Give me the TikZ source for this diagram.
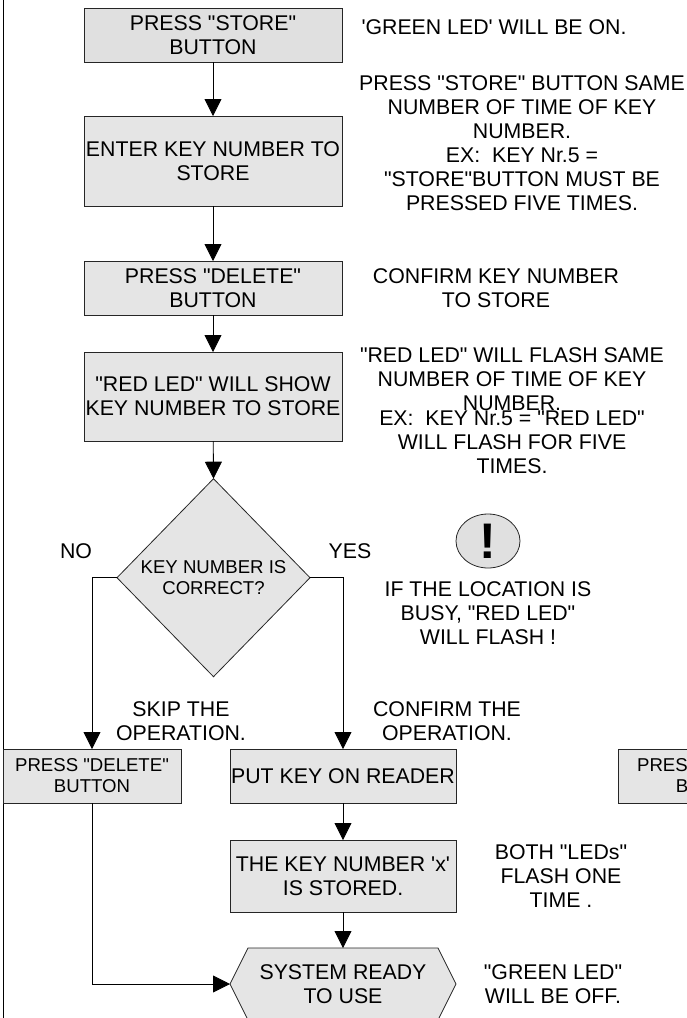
\documentclass[tikz,border=0pt]{standalone}
\usepackage{fontspec}
\usetikzlibrary{arrows.meta,backgrounds,shapes.geometric}
\font\liba="Liberation Sans" at 21.3pt
\font\libb="Liberation Sans" at 18.6pt
\font\libc="Liberation Sans/B" at 50pt
\newcommand{\fsA}{\liba\baselineskip=24pt\relax}
\newcommand{\fsB}{\libb\baselineskip=21pt\relax}
\tikzset{
  x=1pt,y=-1pt,
  every node/.style={inner sep=0pt,outer sep=0pt,align=center,text=black},
  procbox/.style={draw=black!85,line width=0.8pt,fill=black!10,font=\fsA},
  smallbox/.style={procbox,font=\fsB},
  note/.style={font=\fsA},
  outline/.style={draw=black!85,line width=0.8pt,fill=black!10},
  flow/.style={draw=black,line width=0.8pt,-{Triangle[length=17pt,width=17pt]}},
}
\begin{document}
\begin{tikzpicture}
\useasboundingbox (0,0) rectangle (687,1018);
\clip (0,0) rectangle (687,1018);
\coordinate (bt) at (3,0);
\coordinate (bb) at (3,1018);
\draw[line width=0.8pt] (bt) -- (bb);

\node[procbox,fill=black!12,minimum width=258pt,minimum height=54pt] (b1) at (213,35) {PRESS "STORE"\\BUTTON};
\node[procbox,minimum width=258pt,minimum height=90pt] (b2) at (213,161) {ENTER KEY NUMBER TO\\STORE};
\node[procbox,minimum width=258pt,minimum height=54pt] (b3) at (213,288) {PRESS "DELETE"\\BUTTON};
\node[procbox,minimum width=258pt,minimum height=89pt] (b4) at (213,396.5) {"RED LED" WILL SHOW\\KEY NUMBER TO STORE};

\node[font=\fsB,minimum width=193pt,minimum height=198pt] (dia) at (213.5,577.7) {KEY NUMBER IS\\CORRECT?};
\begin{scope}[on background layer]
\path[outline] (dia.north) -- (dia.east) -- (dia.south) -- (dia.west) -- cycle;
\end{scope}

\node[smallbox,minimum width=178pt,minimum height=54pt] (del) at (92,776) {PRESS "DELETE"\\BUTTON};
\node[procbox,minimum width=226pt,minimum height=54pt] (put) at (343,776) {PUT KEY ON READER};
\node[smallbox,minimum width=192pt,minimum height=54pt] (del2) at (714,776) {PRESS "DELETE"\\BUTTON};
\node[procbox,minimum width=226pt,minimum height=72pt] (kst) at (343,876) {THE KEY NUMBER 'x'\\IS STORED.};

\node[font=\fsA,minimum width=226pt,minimum height=72pt] (hex) at (343,984) {SYSTEM READY\\TO USE};
\begin{scope}[on background layer]
\path[outline] (hex.west) -- ([xshift=18pt]hex.north west) -- ([xshift=-18pt]hex.north east) -- (hex.east) -- ([xshift=-18pt]hex.south east) -- ([xshift=18pt]hex.south west) -- cycle;
\end{scope}

\draw[flow] (b1) -- (b2);
\draw[flow] (b2) -- (b3);
\draw[flow] (b3) -- (b4);
\draw[flow] (b4) -- (dia.north);
\draw[flow] (dia.west) -| (del.north);
\draw[flow] (dia.east) -| (put.north);
\draw[flow] (put) -- (kst);
\draw[flow] (kst) -- (hex.north);
\draw[flow] (del.south) |- (hex.west);

\node[note] (n1) at (494,27) {'GREEN LED' WILL BE ON.};
\node[note] (n2) at (522,143) {PRESS "STORE" BUTTON SAME\\NUMBER OF TIME OF KEY\\NUMBER.\\EX:\ \ KEY Nr.5 =\\"STORE"BUTTON MUST BE\\PRESSED FIVE TIMES.};
\node[note] (n3) at (496,288) {CONFIRM KEY NUMBER\\TO STORE};
\node[note] (n4) at (512,379) {"RED LED" WILL FLASH SAME\\NUMBER OF TIME OF KEY\\NUMBER.};
\node[note] (n5) at (512,442) {EX:\ \ KEY Nr.5 = "RED LED"\\WILL FLASH FOR FIVE\\TIMES.};
\node[draw=black!85,line width=0.8pt,fill=black!12,ellipse,minimum width=64pt,minimum height=54pt] (ex) at (488,541) {};
\node[font=\libc] (exm) at (488,541) {!};
\node[note] (n6) at (488,613) {IF THE LOCATION IS\\BUSY, "RED LED"\\WILL FLASH !};
\node[note] (no) at (76,551) {NO};
\node[note] (yes) at (350,551) {YES};
\node[note] (n7) at (181,721) {SKIP THE\\OPERATION.};
\node[note] (n8) at (447,721) {CONFIRM THE\\OPERATION.};
\node[note] (n9) at (561,876) {BOTH "LEDs"\\FLASH ONE\\TIME .};
\node[note] (n10) at (553,984) {"GREEN LED"\\WILL BE OFF.};
\end{tikzpicture}
\end{document}
